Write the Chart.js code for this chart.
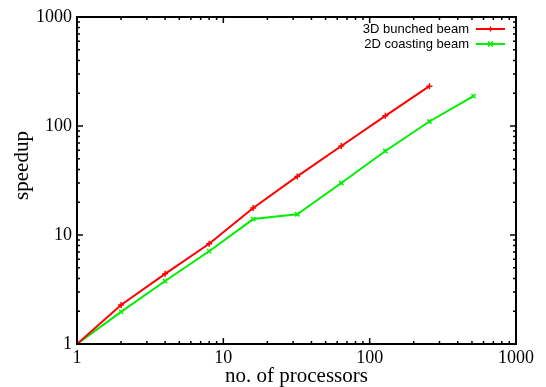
<!DOCTYPE html>
<html><head><meta charset="utf-8">
<script src="https://cdn.jsdelivr.net/npm/chart.js@4/dist/chart.umd.min.js"></script>
<style>html,body{margin:0;padding:0;background:#fff}#wrap{width:546px;height:387px}</style>
</head><body><div id="wrap"><canvas id="c" width="546" height="387"></canvas></div>
<script>
const procs3D = [1, 2, 4, 8, 16, 32, 64, 128, 256];
const speedup3D = [1, 2.28, 4.4, 8.3, 17.7, 34.5, 65.5, 124, 232];
const procs2D = [1, 2, 4, 8, 16, 32, 64, 128, 256, 512];
const speedup2D = [1, 1.97, 3.78, 7.1, 14.0, 15.5, 30, 59, 110, 188];
const tickValues = [1, 10, 100, 1000];
const labels = ['3D bunched beam', '2D coasting beam'];
const yTitle = 'speedup';
const xTitle = 'no. of processors';

const serif = '"Liberation Serif", "Times New Roman", serif';

const frame = {
  id: 'frame',
  afterDraw(chart) {
    const ctx = chart.ctx, a = chart.chartArea;
    const xs = chart.scales.x, ys = chart.scales.y;
    ctx.save();
    ctx.strokeStyle = '#000';
    ctx.lineWidth = 1.5;
    const minors = [];
    for (let d = 1; d < 1000; d *= 10) for (let k = 1; k <= 9; k++) minors.push([d * k, k === 1]);
    minors.push([1000, true]);
    ctx.beginPath();
    minors.forEach(([v, major]) => {
      const L = major ? 6 : 3;
      const px = xs.getPixelForValue(v);
      ctx.moveTo(px, a.bottom); ctx.lineTo(px, a.bottom - L);
      ctx.moveTo(px, a.top); ctx.lineTo(px, a.top + L);
      const py = ys.getPixelForValue(v);
      ctx.moveTo(a.left, py); ctx.lineTo(a.left + L, py);
      ctx.moveTo(a.right, py); ctx.lineTo(a.right - L, py);
    });
    ctx.stroke();
    ctx.lineWidth = 2;
    ctx.strokeRect(a.left, a.top, a.right - a.left, a.bottom - a.top);
    // y title (gnuplot places it slightly above centre)
    ctx.save();
    ctx.translate(22, (a.top + a.bottom) / 2 - 15);
    ctx.rotate(-Math.PI / 2);
    ctx.font = '21px ' + serif;
    ctx.fillStyle = '#000';
    ctx.textAlign = 'center';
    ctx.textBaseline = 'middle';
    ctx.fillText(yTitle, 0, 0);
    ctx.restore();
    // legend
    ctx.font = '13px "Liberation Sans", Arial, sans-serif';
    ctx.textAlign = 'right';
    ctx.textBaseline = 'middle';
    chart.data.datasets.forEach((ds, i) => {
      const y = a.top + 12 + i * 15;
      ctx.fillStyle = '#000';
      ctx.fillText(ds.label, a.right - 47, y);
      ctx.strokeStyle = ds.borderColor;
      ctx.lineWidth = 2;
      ctx.beginPath(); ctx.moveTo(a.right - 40, y); ctx.lineTo(a.right - 11, y); ctx.stroke();
      const cx = a.right - 25.5;
      ctx.lineWidth = 1.5;
      ctx.beginPath();
      if (i === 0) { ctx.moveTo(cx - 2.5, y); ctx.lineTo(cx + 2.5, y); ctx.moveTo(cx, y - 2.5); ctx.lineTo(cx, y + 2.5); }
      else { ctx.moveTo(cx - 2.5, y - 2.5); ctx.lineTo(cx + 2.5, y + 2.5); ctx.moveTo(cx + 2.5, y - 2.5); ctx.lineTo(cx - 2.5, y + 2.5); }
      ctx.stroke();
    });
    ctx.restore();
  }
};

new Chart(document.getElementById('c'), {
  type: 'line',
  data: {
    datasets: [
      { label: labels[0], data: procs3D.map((x, i) => ({x, y: speedup3D[i]})), borderColor: '#ff0000', backgroundColor: '#ff0000', borderWidth: 2, pointStyle: 'cross', pointRadius: 3, pointBorderWidth: 1.5, tension: 0 },
      { label: labels[1], data: procs2D.map((x, i) => ({x, y: speedup2D[i]})), borderColor: '#00ee00', backgroundColor: '#00ee00', borderWidth: 2, pointStyle: 'crossRot', pointRadius: 3, pointBorderWidth: 1.5, tension: 0 }
    ]
  },
  options: {
    responsive: false, animation: false, devicePixelRatio: 1,
    layout: { padding: { top: 17, right: 30, left: 0, bottom: 0 } },
    plugins: { legend: { display: false }, tooltip: { enabled: false } },
    scales: {
      x: {
        type: 'logarithmic', min: 1, max: 1000,
        afterBuildTicks: s => { s.ticks = tickValues.map(v => ({value: v})); },
        afterFit: s => { s.height = 43; },
        grid: { display: false, drawTicks: false }, border: { display: false },
        ticks: { color: '#000', font: { family: serif, size: 18, lineHeight: 1 }, padding: 5, maxRotation: 0, autoSkip: false, callback: v => String(v) },
        title: { display: true, text: xTitle, color: '#000', font: { family: serif, size: 21, lineHeight: 1 }, padding: { top: 1, bottom: 0 } }
      },
      y: {
        type: 'logarithmic', min: 1, max: 1000,
        afterBuildTicks: s => { s.ticks = tickValues.map(v => ({value: v})); },
        afterFit: s => { s.width = 77; },
        grid: { display: false, drawTicks: false }, border: { display: false },
        ticks: { color: '#000', font: { family: serif, size: 18 }, padding: 5, autoSkip: false, callback: v => String(v) },
        title: { display: false }
      }
    }
  },
  plugins: [frame]
});
</script></body></html>
